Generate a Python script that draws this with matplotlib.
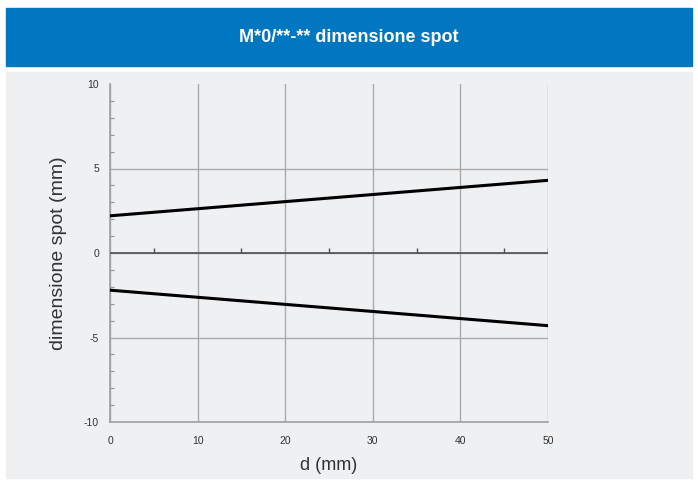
import matplotlib
matplotlib.use("Agg")
import matplotlib.pyplot as plt
from matplotlib.patches import Rectangle
from matplotlib.ticker import MultipleLocator

# data
d_mm = [0, 50]
spot_upper = [2.2, 4.3]
spot_lower = [-2.2, -4.3]
x_ticks = [0, 10, 20, 30, 40, 50]
y_ticks = [-10, -5, 0, 5, 10]
axis_minor_x = [5, 15, 25, 35, 45, 50]

title = "M*0/**-** dimensione spot"

plt.rcParams['font.family'] = ['Liberation Sans', 'DejaVu Sans']
plt.rcParams['axes.unicode_minus'] = False

W, H = 698, 482
fig = plt.figure(figsize=(W / 100, H / 100), dpi=100)
fig.patch.set_facecolor('white')

# header band and grey panel
fig.add_artist(Rectangle((6 / W, 1 - 66 / H), 686 / W, 58 / H,
                         transform=fig.transFigure, color='#0077C0', zorder=-10))
fig.add_artist(Rectangle((6 / W, 1 - 478 / H), 686 / W, 406 / H,
                         transform=fig.transFigure, color='#EFF0F2', zorder=-10))
fig.text(349 / W, 1 - 37 / H, title, color='white', fontsize=13,
         fontweight='bold', ha='center', va='center')

ax = fig.add_axes([110 / W, 1 - 422 / H, 438 / W, 338 / H])
ax.patch.set_alpha(0)

ax.set_xlim(0, 50)
ax.set_ylim(-10, 10)
ax.set_xticks(x_ticks)
ax.set_yticks(y_ticks)
ax.yaxis.set_minor_locator(MultipleLocator(1))

ax.grid(True, color='#A9A9A9', lw=1)
# no horizontal line along the top edge
ax.get_ygridlines()[-1].set_visible(False)
for s in ['top', 'right']:
    ax.spines[s].set_visible(False)
for s in ['left', 'bottom']:
    ax.spines[s].set_color('#A0A0A0')
    ax.spines[s].set_linewidth(1.2)

ax.tick_params(which='major', length=0, labelsize=7.5, colors='#333333', pad=8)
ax.tick_params(axis='y', which='minor', direction='in', length=3,
               color='#909090', width=0.8)
ax.tick_params(axis='x', pad=10)

# zero axis with small ticks
ax.axhline(0, color='#505050', lw=1.2, zorder=3)
ax.vlines(axis_minor_x, 0, 0.3, color='#505050', lw=1, zorder=3)

ax.plot(d_mm, spot_upper, color='black', lw=2.2, zorder=4)
ax.plot(d_mm, spot_lower, color='black', lw=2.2, zorder=4)

ax.set_xlabel('d (mm)', fontsize=13, color='#333333', labelpad=8)
ax.set_ylabel('dimensione spot (mm)', fontsize=14, color='#333333', labelpad=12)

fig.savefig('out.png', dpi=100)
